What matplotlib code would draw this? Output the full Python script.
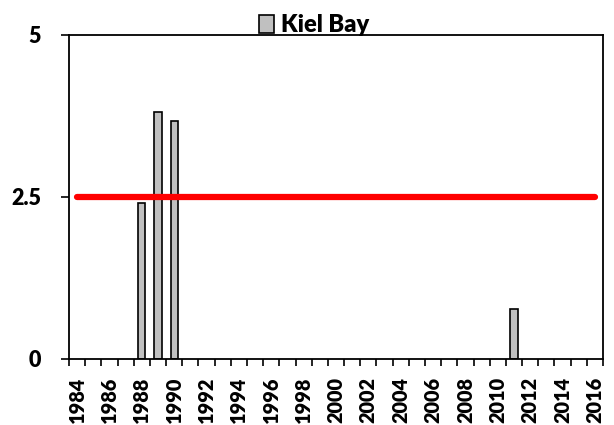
import matplotlib
matplotlib.use('Agg')
import matplotlib.pyplot as plt
import numpy as np

plt.rcParams['font.family'] = ['Lato', 'DejaVu Sans']
plt.rcParams['font.weight'] = 'heavy'

# data
years = list(range(1984, 2017))
bar_years = [1988, 1989, 1990, 2011]
bar_values = [2.40, 3.81, 3.67, 0.77]
threshold = 2.5
series_name = 'Kiel Bay'

values = [np.nan] * len(years)
for y, v in zip(bar_years, bar_values):
    values[years.index(y)] = v

x = np.arange(len(years))

fig = plt.figure(figsize=(6.14, 4.25), dpi=100)
ax = fig.add_axes([69/614, 1 - 358.5/425, (603 - 69)/614, (358.5 - 34.5)/425])

bars = ax.bar(x, values, width=0.45, color='#c0c0c0', edgecolor='black',
              linewidth=1.2, label=series_name, zorder=2)
ax.plot(x, [threshold] * len(years), color='#ff0000', lw=4.5,
        solid_capstyle='round', zorder=3)

ax.set_xlim(-0.5, len(years) - 0.5)
ax.set_ylim(0, 5)
ax.set_yticks([0, 2.5, 5])
ax.set_yticklabels(['0', '2.5', '5'])

ax.set_xticks(x[::2])
ax.set_xticklabels([str(y) for y in years[::2]], rotation=90)
ax.set_xticks(np.arange(-0.5, len(years)), minor=True)
ax.tick_params(axis='x', which='major', length=0, pad=13, labelsize=14.3)
ax.tick_params(axis='x', which='minor', length=5, width=1.2)
ax.tick_params(axis='y', length=6, width=1.2, pad=14, labelsize=15.5)

for s in ax.spines.values():
    s.set_linewidth(1.3)
    s.set_color('black')

ax.legend(handles=[bars], loc='lower center', bbox_to_anchor=(0.459, 0.995),
          frameon=False, fontsize=17, handlelength=0.6, handleheight=0.8,
          handletextpad=0.3, borderpad=0, borderaxespad=0)

fig.savefig('out.png', dpi=100)
